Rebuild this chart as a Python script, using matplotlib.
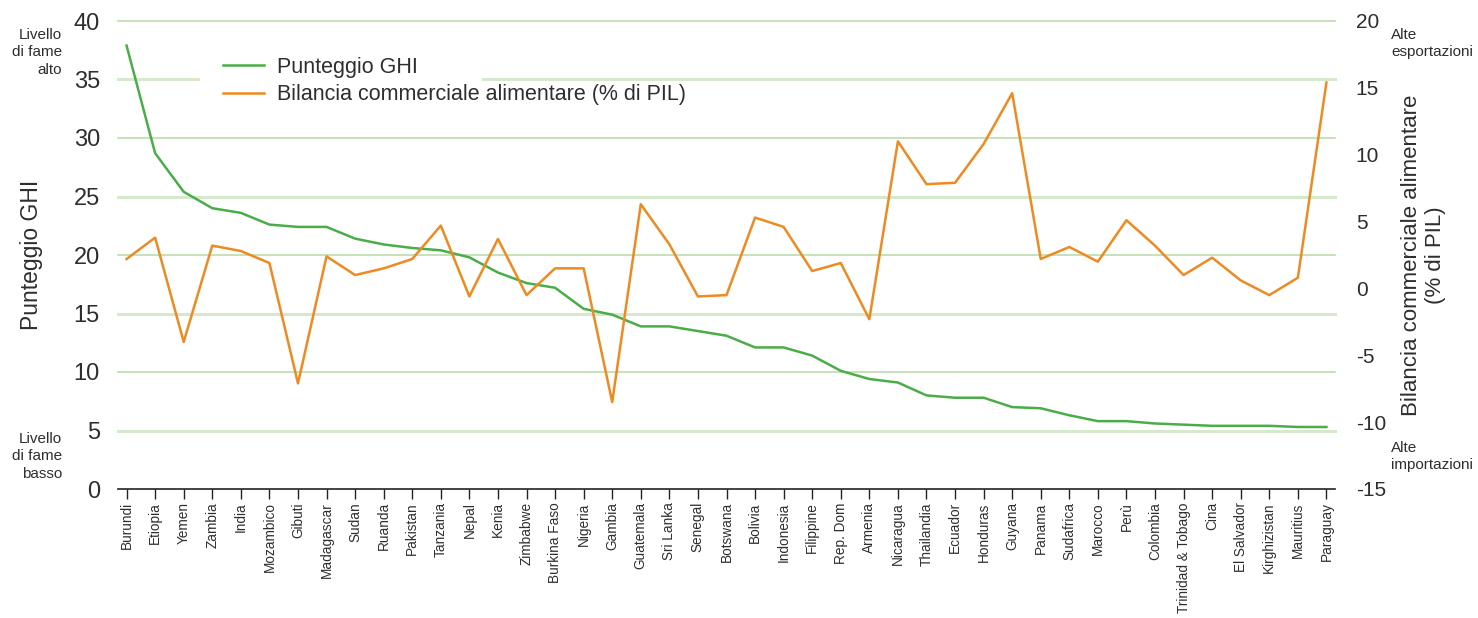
import matplotlib
matplotlib.use("Agg")
import matplotlib.pyplot as plt
from matplotlib.patches import Rectangle

plt.rcParams['font.family'] = ['Liberation Sans', 'DejaVu Sans']
plt.rcParams['axes.unicode_minus'] = False

countries = ["Burundi", "Etiopia", "Yemen", "Zambia", "India", "Mozambico", "Gibuti",
             "Madagascar", "Sudan", "Ruanda", "Pakistan", "Tanzania", "Nepal", "Kenia",
             "Zimbabwe", "Burkina Faso", "Nigeria", "Gambia", "Guatemala", "Sri Lanka",
             "Senegal", "Botswana", "Bolivia", "Indonesia", "Filippine", "Rep. Dom",
             "Armenia", "Nicaragua", "Thailandia", "Ecuador", "Honduras", "Guyana",
             "Panama", "Sudafrica", "Marocco", "Perù", "Colombia", "Trinidad & Tobago",
             "Cina", "El Salvador", "Kirghizistan", "Mauritius", "Paraguay"]

ghi = [37.9, 28.7, 25.4, 24.0, 23.6, 22.6, 22.4, 22.4, 21.4, 20.9, 20.6, 20.4, 19.8,
       18.5, 17.6, 17.2, 15.4, 14.9, 13.9, 13.9, 13.5, 13.1, 12.1, 12.1, 11.4, 10.1,
       9.4, 9.1, 8.0, 7.8, 7.8, 7.0, 6.9, 6.3, 5.8, 5.8, 5.6, 5.5, 5.4, 5.4, 5.4, 5.3, 5.3]

trade = [2.2, 3.8, -4.0, 3.2, 2.8, 1.9, -7.1, 2.4, 1.0, 1.5, 2.2, 4.7, -0.6, 3.7,
         -0.5, 1.5, 1.5, -8.5, 6.3, 3.3, -0.6, -0.5, 5.3, 4.6, 1.3, 1.9, -2.3, 11.0,
         7.8, 7.9, 10.8, 14.6, 2.2, 3.1, 2.0, 5.1, 3.2, 1.0, 2.3, 0.6, -0.5, 0.8, 15.4]

left_ticks = [0, 5, 10, 15, 20, 25, 30, 35, 40]
right_ticks = [-15, -10, -5, 0, 5, 10, 15, 20]

GREEN = '#4aad48'
ORANGE = '#ee8a22'
TXT = '#2e2e2e'

fig = plt.figure(figsize=(14.78, 6.18), dpi=100)
ax = fig.add_axes([118/1478, 1 - 489/618, (1335-118)/1478, (489-21)/618])
ax2 = ax.twinx()

x = list(range(len(countries)))

# gridlines (alternating styles)
for i, t in enumerate(left_ticks[1:]):
    if i % 2 == 0:
        ax.axhline(t, color='#d6e9cc', lw=2.2, zorder=0, clip_on=False)
    else:
        ax.axhline(t, color='#b7d8a6', lw=1.1, zorder=0, clip_on=False)

# white gap in the 35 gridline behind the legend
ax.add_patch(Rectangle((0.0674, 0.86), 0.232, 0.035, transform=ax.transAxes,
                       facecolor='white', edgecolor='none', zorder=1))

l1, = ax.plot(x, ghi, color=GREEN, lw=1.8, label='Punteggio GHI', zorder=3)
l2, = ax2.plot(x, trade, color=ORANGE, lw=1.8, label='Bilancia commerciale alimentare (% di PIL)', zorder=3)

ax.set_xlim(-0.3, len(countries) - 0.7)
ax.set_ylim(0, 40)
ax2.set_ylim(-15, 20)
ax.set_yticks(left_ticks)
ax2.set_yticks(right_ticks)
ax.set_xticks(x)
ax.set_xticklabels(countries, rotation=90, fontsize=9.8, color=TXT)

for a in (ax, ax2):
    for s in ['top', 'left', 'right']:
        a.spines[s].set_visible(False)
ax2.spines['bottom'].set_visible(False)
ax.spines['bottom'].set_color('#222222')
ax.spines['bottom'].set_linewidth(1.2)

ax.tick_params(axis='y', length=0, pad=13, labelsize=17, labelcolor=TXT)
ax2.tick_params(axis='y', length=0, pad=15, labelsize=15, labelcolor=TXT)
ax.tick_params(axis='x', length=7, width=1, color='#222222', pad=2.5)

ax.set_ylabel('Punteggio GHI', fontsize=16.5, color=TXT)
ax.yaxis.set_label_coords(-0.062, 0.5)
ax2.set_ylabel('Bilancia commerciale alimentare\n(% di PIL)', fontsize=16, color=TXT,
               linespacing=1.2)
ax2.yaxis.set_label_coords(1.054, 0.5)

leg = ax2.legend(handles=[l1, l2], loc='upper left', bbox_to_anchor=(0.081, 0.937),
                 frameon=False, fontsize=15.5, handlelength=1.9, handletextpad=0.6,
                 borderpad=0.3, labelspacing=0.3, borderaxespad=0)
for t in leg.get_texts():
    t.set_color(TXT)

fs = 11
fig.text(62/1478, 1 - 28/618, 'Livello\ndi fame\nalto', ha='right', va='top',
         fontsize=fs, color=TXT, linespacing=1.3)
fig.text(62/1478, 1 - 432/618, 'Livello\ndi fame\nbasso', ha='right', va='top',
         fontsize=fs, color=TXT, linespacing=1.3)
fig.text(1391/1478, 1 - 28/618, 'Alte\nesportazioni', ha='left', va='top',
         fontsize=fs, color=TXT, linespacing=1.3)
fig.text(1391/1478, 1 - 441/618, 'Alte\nimportazioni', ha='left', va='top',
         fontsize=fs, color=TXT, linespacing=1.3)

fig.savefig('out.png', dpi=100)
